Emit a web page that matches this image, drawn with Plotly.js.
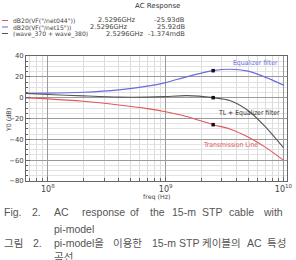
<!DOCTYPE html>
<html><head><meta charset="utf-8">
<script src="https://cdn.plot.ly/plotly-3.0.1.min.js"></script>
<style>html,body{margin:0;padding:0;background:#fff;}#c{width:296px;height:260px;}</style>
</head><body><div id="c"></div>
<script>
// ---- data ----
const freq   = [6.5e7, 1e8, 2e8, 4e8, 7e8, 1e9, 1.5e9, 2.5296e9, 3.5e9, 5e9, 7e9, 1e10];
const tlDb   = [-0.2, -1.2, -3.5, -7, -10.5, -13.5, -18, -25.93, -30, -37.7, -47.5, -60];
const eqDb   = [4.2, 4.3, 5.2, 7.5, 11, 14.5, 20, 25.92, 27.3, 25.4, 19.7, 12];
const sumDb  = [4, 3.1, 1.7, 0.5, 0.5, 1, 2, -0.001374, -2.7, -12.3, -27.8, -48];
const cursorFreq = 2.5296e9;
const cursorVals = [-25.93, 25.92, -0.001374];
const xTickVals = [1e8, 1e9, 1e10];
const xTickText = ['10<sup>8</sup>', '10<sup>9</sup>', '10<sup>10</sup>'];
const yTickVals = [40, 20, 0, -20, -40, -60, -80];
const legendNames = ['dB20(VF("/net044"))', 'dB20(VF("/net15"))', '(wave_370 + wave_380)'];
const legendFreq = ['2.5296GHz', '2.5296GHz', '2.5296GHz'];
const legendVals = ['-25.93dB', '25.92dB', '-1.374mdB'];
const curveLabels = ['Transmission Line', 'Equalizer filter', 'TL + Equalizer filter'];

const RED = '#e0585a', BLUE = '#6b6bdc', BLACK = '#555555';
const colors = [RED, BLUE, BLACK];

// plot area in pixels
const L = 26, R = 287, T = 56, B = 181;
const px = x => (x - L) / (R - L);
const py = y => (B - y) / (B - T);

const traces = [
  {x: freq, y: tlDb, mode: 'lines', line: {color: RED, width: 1.1, shape: 'spline', smoothing: 0.7}},
  {x: freq, y: eqDb, mode: 'lines', line: {color: BLUE, width: 1.2, shape: 'spline', smoothing: 0.7}},
  {x: freq, y: sumDb, mode: 'lines', line: {color: BLACK, width: 1.1, shape: 'spline', smoothing: 0.7}},
  {x: cursorVals.map(() => cursorFreq), y: cursorVals, mode: 'markers',
   marker: {symbol: 'square', size: 3.5, color: '#111'}}
];

const ann = [];
const shapes = [];
// title
ann.push({xref: 'paper', yref: 'paper', x: px(157), y: py(6), text: 'AC Response', showarrow: false,
  xanchor: 'center', yanchor: 'middle', font: {family: 'DejaVu Sans', size: 7, color: '#333'}});
// legend rows
const rowY = [20.5, 27, 33.5];
const freqX = [96, 88, 104];
const valX = [152, 155, 146];
for (let i = 0; i < 3; i++) {
  shapes.push({type: 'line', xref: 'paper', yref: 'paper', x0: px(2), x1: px(8), y0: py(rowY[i]), y1: py(rowY[i]),
    line: {color: colors[i], width: 1}});
  ann.push({xref: 'paper', yref: 'paper', x: px(11), y: py(rowY[i]), text: legendNames[i], showarrow: false,
    xanchor: 'left', yanchor: 'middle', font: {family: 'DejaVu Sans', size: 6.1, color: '#444'}});
  ann.push({xref: 'paper', yref: 'paper', x: px(freqX[i]), y: py(rowY[i]), text: legendFreq[i], showarrow: false,
    xanchor: 'left', yanchor: 'middle', font: {family: 'DejaVu Sans', size: 6.7, color: '#444'}});
  ann.push({xref: 'paper', yref: 'paper', x: px(valX[i]), y: py(rowY[i]), text: legendVals[i], showarrow: false,
    xanchor: 'left', yanchor: 'middle', font: {family: 'DejaVu Sans', size: 6.7, color: '#444'}});
}
// curve labels
ann.push({xref: 'paper', yref: 'paper', x: px(230), y: py(145), text: curveLabels[0], showarrow: false,
  xanchor: 'center', yanchor: 'middle', font: {family: 'DejaVu Sans Condensed', size: 6.8, color: RED}});
ann.push({xref: 'paper', yref: 'paper', x: px(255), y: py(63), text: curveLabels[1], showarrow: false,
  xanchor: 'center', yanchor: 'middle', font: {family: 'DejaVu Sans Condensed', size: 6.8, color: BLUE}});
ann.push({xref: 'paper', yref: 'paper', x: px(249), y: py(113), text: curveLabels[2], showarrow: false,
  xanchor: 'center', yanchor: 'middle', font: {family: 'DejaVu Sans Condensed', size: 6.8, color: '#333'}});
// axis titles
ann.push({xref: 'paper', yref: 'paper', x: px(157), y: py(197), text: 'freq (Hz)', showarrow: false,
  xanchor: 'center', yanchor: 'middle', font: {family: 'DejaVu Sans', size: 6.3, color: '#444'}});
ann.push({xref: 'paper', yref: 'paper', x: px(8), y: py(120), text: 'Y0 (dB)', showarrow: false, textangle: -90,
  xanchor: 'center', yanchor: 'middle', font: {family: 'DejaVu Sans', size: 6.3, color: '#444'}});
// cursor line
shapes.push({type: 'line', xref: 'x', yref: 'paper', x0: Math.log10(cursorFreq), x1: Math.log10(cursorFreq), y0: 0, y1: 1,
  line: {color: '#222', width: 1}});

// caption
const capFont = {family: 'Liberation Sans, Noto Sans CJK KR', size: 10.5, color: '#555'};
const capRows = [
  {y: 212, words: [['Fig.', 2], ['2.', 30], ['AC', 52], ['response', 80], ['of', 128], ['the', 148], ['15-m', 170], ['STP', 200], ['cable', 227], ['with', 261]]},
  {y: 229, words: [['pi-model', 52]]},
  {y: 243, words: [['그림', 2], ['2.', 31], ['pi-model을', 52], ['이용한', 111], ['15-m', 150], ['STP', 177], ['케이블의', 200], ['AC', 245], ['특성', 265]]},
  {y: 257, words: [['곡선', 52]]}
];
capRows.forEach(r => r.words.forEach(w => {
  ann.push({xref: 'paper', yref: 'paper', x: px(w[1]), y: py(r.y), text: w[0], showarrow: false,
    xanchor: 'left', yanchor: 'middle', font: capFont});
}));

const layout = {
  width: 296, height: 260,
  margin: {l: L, r: 296 - R, t: T, b: 260 - B, pad: 0},
  paper_bgcolor: '#fff', plot_bgcolor: '#fff',
  showlegend: false,
  xaxis: {type: 'log', range: [7.814, 10.03], tickvals: xTickVals, ticktext: xTickText,
    showgrid: true, gridcolor: '#9a9a9a', gridwidth: 1,
    minor: {showgrid: true, gridcolor: '#dcdcdc', gridwidth: 1, ticks: 'inside', ticklen: 3, tickcolor: '#666',
      tickvals: [7e7,8e7,9e7,2e8,3e8,4e8,5e8,6e8,7e8,8e8,9e8,2e9,3e9,4e9,5e9,6e9,7e9,8e9,9e9]},
    ticks: 'inside', ticklen: 4, tickcolor: '#666',
    showline: true, linecolor: '#666', linewidth: 1, mirror: true, zeroline: false,
    tickfont: {family: 'DejaVu Sans', size: 8, color: '#444'}},
  yaxis: {range: [-80, 40], tickvals: yTickVals,
    showgrid: true, gridcolor: '#9a9a9a', gridwidth: 1,
    minor: {showgrid: true, gridcolor: '#e2e2e2', dtick: 5, ticks: 'inside', ticklen: 2, tickcolor: '#666'},
    ticks: 'inside', ticklen: 4, tickcolor: '#666',
    showline: true, linecolor: '#666', linewidth: 1, mirror: true, zeroline: false,
    tickfont: {family: 'DejaVu Sans', size: 6.8, color: '#444'}},
  annotations: ann, shapes: shapes
};

Plotly.newPlot('c', traces, layout, {staticPlot: true, displayModeBar: false});
</script></body></html>
